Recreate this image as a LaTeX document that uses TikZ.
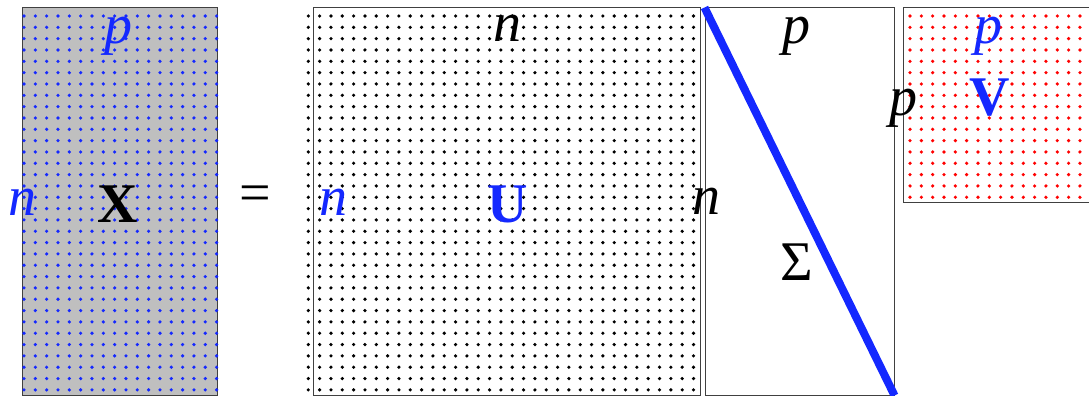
\documentclass[tikz,border=0pt]{standalone}
\usepackage{fontspec}
\setmainfont{Liberation Serif}
\definecolor{biru}{RGB}{20,40,255}
\definecolor{abu}{gray}{0.75}
\begin{document}
\begin{tikzpicture}[x=1pt,y=-1pt,
      matriks/.style={draw=black!75,line width=1pt,inner sep=0pt},
      huruf/.style={font=\fontsize{56}{60}\selectfont,inner sep=0pt,
        anchor=base},
      titik/.style={fill=#1}]

    \useasboundingbox (0,0) rectangle (1089,396);
    \clip (0,0) rectangle (1089,396);

    % Kotak matriks
    \node[matriks,fill=abu,minimum width=195pt,minimum height=387pt]
      (X) at (119.5,201.5) {};
    \node[matriks,minimum width=387pt,minimum height=387pt]
      (U) at (506.5,201.5) {};
    \node[matriks,minimum width=189pt,minimum height=387pt]
      (S) at (799.5,201.5) {};
    \node[matriks,minimum width=190pt,minimum height=194pt]
      (V) at (998,105) {};

    % Pola titik di dalam matriks
    \foreach \i in {0,...,17}
      \foreach \j in {0,...,33}
        {\fill[titik=biru] (24+\i*11.33,16+\j*11.33) circle (1.8);}
    \foreach \i in {0,...,34}
      \foreach \j in {0,...,33}
        {\fill[titik=black] (308.3+\i*11.33,16+\j*11.33) circle (1.8);}
    \foreach \i in {0,...,15}
      \foreach \j in {0,...,16}
        {\fill[titik=red] (910+\i*11.33,16+\j*11.33) circle (1.8);}

    % Diagonal Sigma
    \draw[biru,line width=8pt] (S.north west) -- (S.south east);

    % Label X
    \node[huruf,text=biru] (Xp) at (118,44) {\textit{p}};
    \node[huruf,text=biru] (Xn) at (23,215) {\textit{n}};
    \node[huruf] (Xnama) at (118,222) {\textbf{X}};
    \node[huruf,anchor=center] (sama) at (255,199) {=};

    % Label U
    \node[huruf] (Un) at (507,42) {\textit{n}};
    \node[huruf,text=biru] (Ukiri) at (333,215) {\textit{n}};
    \node[huruf,text=biru] (Unama) at (508,222) {\textbf{U}};
    \node[huruf] (Ukanan) at (706,214) {\textit{n}};

    % Label Sigma
    \node[huruf] (Sp) at (796,44) {\textit{p}};
    \node[huruf] (Snama) at (797,280) {Σ};

    % Label V
    \node[huruf] (Vkiri) at (903,115) {\textit{p}};
    \node[huruf,text=biru] (Vp) at (988,44) {\textit{p}};
    \node[huruf,text=biru] (Vnama) at (990,115) {\textbf{V}};
  \end{tikzpicture}
\end{document}
